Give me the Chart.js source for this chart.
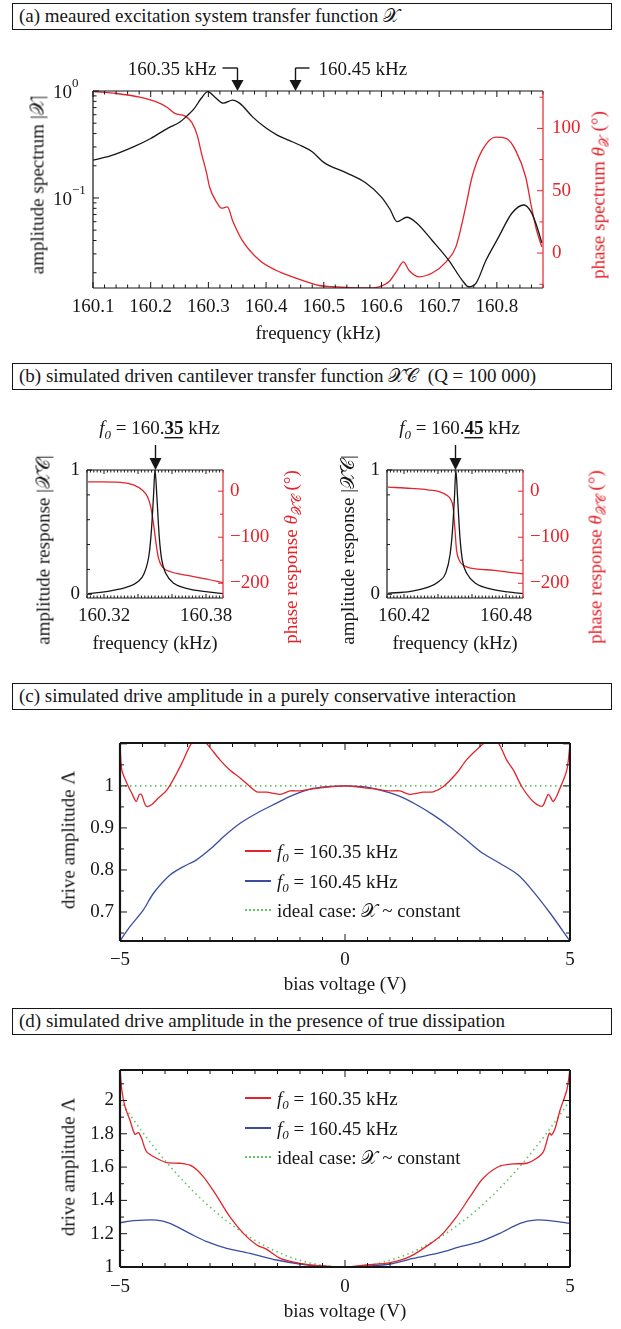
<!DOCTYPE html>
<html><head><meta charset="utf-8"><title>transfer functions</title>
<script src="https://cdn.jsdelivr.net/npm/chart.js@4.4.1/dist/chart.umd.min.js"></script>
<style>
html,body{margin:0;padding:0;background:#fff}
body{position:relative;width:621px;height:1329px;overflow:hidden;font-family:"Liberation Serif","Times New Roman",serif;color:#161616;font-size:19px}
.box{position:absolute;left:12px;width:600px;height:27px;box-sizing:border-box;border:1.5px solid #161616;padding-left:6px;line-height:24px;white-space:nowrap}
.wrap{position:absolute}
.wrap canvas{display:block}
.rt{position:absolute;white-space:nowrap;transform:translate(-50%,-50%) rotate(-90deg);line-height:1}
.ct{position:absolute;white-space:nowrap;transform:translate(-50%,-50%);line-height:1}
.red{color:#e3242b}
sub{font-size:13px;vertical-align:-4px;line-height:0}
.cx{font-family:"Liberation Serif","DejaVu Serif","DejaVu Sans","Noto Sans",serif;font-style:normal}
.leg{position:absolute;white-space:nowrap;line-height:1}
.ln{position:absolute;left:245px;width:26px;height:1.6px}
.dot{position:absolute;left:245px;width:26px;height:0;border-top:2px dotted #62c462}
</style></head>
<body>
<div class="box" style="top:3px">(a) meaured excitation system transfer function <span class="cx">𝒳</span></div>
<div class="wrap" style="left:0;top:35px"><canvas id="cA" width="621" height="310"></canvas></div>
<div class="rt" style="left:37px;top:185px">amplitude spectrum |<span class="cx">𝒳</span>|</div>
<div class="rt red" style="left:598px;top:195px">phase spectrum <i>θ</i><sub class="cx">𝒳</sub> (°)</div>
<div class="ct" style="left:318px;top:332px">frequency (kHz)</div>

<div class="box" style="top:363px">(b) simulated driven cantilever transfer function <span class="cx">𝒳𝒞</span>&nbsp; (Q = 100 000)</div>
<div class="wrap" style="left:0;top:400px"><canvas id="cB1" width="310" height="260"></canvas></div>
<div class="wrap" style="left:310px;top:400px"><canvas id="cB2" width="311" height="260"></canvas></div>
<div class="rt" style="left:43px;top:550px">amplitude response |<span class="cx">𝒳𝒞</span>|</div>
<div class="rt" style="left:347px;top:550px">amplitude response |<span class="cx">𝒳𝒞</span>|</div>
<div class="rt red" style="left:290px;top:557px">phase response <i>θ</i><sub class="cx">𝒳𝒞</sub> (°)</div>
<div class="rt red" style="left:595px;top:557px">phase response <i>θ</i><sub class="cx">𝒳𝒞</sub> (°)</div>
<div class="ct" style="left:155px;top:642px">frequency (kHz)</div>
<div class="ct" style="left:455px;top:642px">frequency (kHz)</div>

<div class="box" style="top:683px">(c) simulated drive amplitude in a purely conservative interaction</div>
<div class="wrap" style="left:0;top:715px"><canvas id="cC" width="621" height="285"></canvas></div>
<div class="rt" style="left:68px;top:840px">drive amplitude Λ</div>
<div class="ct" style="left:345px;top:983px">bias voltage (V)</div>
<div class="ln" style="top:850px;background:#e3242b"></div>
<div class="ln" style="top:880px;background:#3b4da3"></div>
<div class="dot" style="top:909px"></div>
<div class="leg" style="left:277px;top:842px"><i>f</i><sub><i>0</i></sub> = 160.35 kHz</div>
<div class="leg" style="left:277px;top:872px"><i>f</i><sub><i>0</i></sub> = 160.45 kHz</div>
<div class="leg" style="left:277px;top:901px">ideal case: <span class="cx">𝒳</span> ~ constant</div>

<div class="box" style="top:1008px">(d) simulated drive amplitude in the presence of true dissipation</div>
<div class="wrap" style="left:0;top:1040px"><canvas id="cD" width="621" height="289"></canvas></div>
<div class="rt" style="left:68px;top:1167px">drive amplitude Λ</div>
<div class="ct" style="left:345px;top:1310px">bias voltage (V)</div>
<div class="ln" style="top:1097px;background:#e3242b"></div>
<div class="ln" style="top:1127px;background:#3b4da3"></div>
<div class="dot" style="top:1156px"></div>
<div class="leg" style="left:277px;top:1089px"><i>f</i><sub><i>0</i></sub> = 160.35 kHz</div>
<div class="leg" style="left:277px;top:1119px"><i>f</i><sub><i>0</i></sub> = 160.45 kHz</div>
<div class="leg" style="left:277px;top:1148px">ideal case: <span class="cx">𝒳</span> ~ constant</div>

<script>
// ---------------- data ----------------
// (a) measured excitation system transfer function
const A_FREQ_AMP = [160.100,160.130,160.170,160.200,160.230,160.250,160.265,160.275,160.288,160.299,160.311,160.326,160.342,160.354,160.377,160.400,160.420,160.440,160.458,160.480,160.500,160.540,160.573,160.600,160.615,160.627,160.644,160.660,160.688,160.717,160.740,160.751,160.764,160.781,160.803,160.826,160.847,160.860,160.869,160.878];
const A_AMP = [0.226,0.247,0.300,0.360,0.450,0.510,0.600,0.680,0.860,0.985,0.880,0.770,0.820,0.770,0.570,0.450,0.385,0.345,0.313,0.270,0.215,0.171,0.138,0.102,0.078,0.060,0.066,0.059,0.040,0.026,0.017,0.0148,0.016,0.026,0.043,0.072,0.086,0.073,0.055,0.038];
const A_FREQ_PH = [160.100,160.141,160.181,160.211,160.228,160.242,160.259,160.271,160.281,160.288,160.297,160.302,160.314,160.323,160.333,160.342,160.359,160.389,160.418,160.428,160.458,160.492,160.515,160.574,160.596,160.613,160.627,160.638,160.648,160.665,160.688,160.712,160.729,160.746,160.757,160.774,160.798,160.816,160.833,160.850,160.860,160.869,160.878];
const A_PHASE = [129.6,128,125,121,117,112,110,105,94,80,64,53,41,36,37,26,10,-6,-14,-16,-21,-26,-27,-28,-27,-23,-14,-7,-14,-19,-16,-7,5,37,61,82,93,92,82,61,37,18,5];
const A_X_TICKS = [160.1,160.2,160.3,160.4,160.5,160.6,160.7,160.8];
const A_X_LABELS = ['160.1','160.2','160.3','160.4','160.5','160.6','160.7','160.8'];
const A_Y_EXPONENTS = [0,-1];
const A_R_TICKS = [0,50,100];
const A_R_LABELS = ['0','50','100'];
const A_MARKS = [160.35,160.45];
const A_MARK_LABELS = ['160.35 kHz','160.45 kHz'];

// (b) simulated driven cantilever transfer function
const B1_FREQ_AMP = [160.3106,160.3239,160.3338,160.3397,160.3436,160.3466,160.3479,160.3491,160.3500,160.3511,160.3525,160.3540,160.3564,160.3613,160.3692,160.3810,160.3904];
const B1_AMP = [0.005,0.027,0.059,0.099,0.167,0.328,0.516,0.785,1.000,0.785,0.462,0.274,0.167,0.086,0.046,0.019,0.004];
const B1_FREQ_PH = [160.3106,160.3180,160.3298,160.3377,160.3426,160.3456,160.3475,160.3491,160.3505,160.3519,160.3544,160.3593,160.3692,160.3790,160.3904];
const B1_PHASE = [20,20,19,13,2,-12,-34,-70,-110,-143,-165,-175,-183,-190,-199];
const B2_FREQ_AMP = [160.4106,160.4239,160.4338,160.4407,160.4446,160.4471,160.4485,160.4497,160.4505,160.4515,160.4529,160.4544,160.4570,160.4623,160.4702,160.4810,160.4908];
const B2_AMP = [0.008,0.024,0.056,0.105,0.172,0.320,0.510,0.785,1.000,0.785,0.460,0.270,0.167,0.086,0.046,0.019,0.004];
const B2_FREQ_PH = [160.4106,160.4239,160.4338,160.4416,160.4456,160.4475,160.4489,160.4499,160.4509,160.4525,160.4554,160.4593,160.4731,160.4908];
const B2_PHASE = [9,6,3,-2,-10,-18,-35,-80,-128,-150,-162,-167,-172,-180];
const B1_X_TICKS = [160.32,160.38];
const B2_X_TICKS = [160.42,160.48];
const B_Y_TICKS = [0,1];
const B_R_TICKS = [-200,-100,0];
const B_R_LABELS = ['\u2212200','\u2212100','0'];
const B_MARKS = [160.35,160.45];

// (c) purely conservative interaction
const C_V_RED = [-5.0,-4.96,-4.85,-4.74,-4.64,-4.57,-4.52,-4.42,-4.30,-4.15,-3.96,-3.74,-3.59,-3.42,-3.25,-3.07,-2.78,-2.56,-2.33,-2.11,-1.96,-1.74,-1.44,-1.22,-1.0,-0.71,-0.4,0,0.4,0.70,1.0,1.22,1.44,1.74,1.96,2.18,2.48,2.70,3.07,3.25,3.42,3.59,3.74,3.93,4.11,4.26,4.39,4.52,4.63,4.78,4.93,5.0];
const C_RED = [1.10,1.038,1.007,0.983,0.963,0.980,0.979,0.952,0.955,0.971,0.990,1.030,1.062,1.10,1.115,1.10,1.062,1.038,1.019,0.998,0.986,0.985,0.980,0.988,0.988,0.993,0.997,1.0,0.996,0.992,0.988,0.988,0.980,0.985,0.986,0.998,1.030,1.062,1.10,1.115,1.10,1.062,1.038,0.998,0.971,0.956,0.952,0.980,0.963,0.995,1.038,1.10];
const C_V_BLUE = [-5,-4.78,-4.48,-4.26,-3.89,-3.59,-3.30,-3.0,-2.70,-2.33,-1.96,-1.52,-1.22,-0.78,-0.4,0,0.4,0.70,1.22,1.59,1.96,2.33,2.70,3.07,3.44,3.85,4.19,4.56,5];
const C_BLUE = [0.631,0.665,0.705,0.744,0.788,0.808,0.824,0.849,0.879,0.911,0.935,0.959,0.975,0.992,0.998,1.0,0.998,0.992,0.975,0.955,0.931,0.903,0.871,0.839,0.816,0.788,0.748,0.697,0.631];
const C_V_IDEAL = [-5,5];
const C_IDEAL = [1,1];
const C_X_TICKS = [-5,0,5];
const C_X_LABELS = ['\u22125','0','5'];
const C_Y_TICKS = [0.7,0.8,0.9,1];
const C_Y_LABELS = ['0.7','0.8','0.9','1'];

// (d) presence of true dissipation
const D_V_RED = [-5,-4.96,-4.89,-4.78,-4.67,-4.59,-4.52,-4.41,-4.19,-3.96,-3.67,-3.41,-3.15,-2.89,-2.56,-2.26,-1.96,-1.74,-1.44,-1.0,-0.56,0,0.48,1.0,1.44,1.96,2.18,2.48,2.78,3.07,3.41,3.74,4.04,4.26,4.41,4.54,4.59,4.67,4.78,4.93,5];
const D_RED = [2.19,2.063,1.963,1.883,1.797,1.807,1.773,1.693,1.653,1.627,1.623,1.607,1.543,1.443,1.302,1.202,1.132,1.106,1.052,1.022,1.006,1.0,1.012,1.026,1.062,1.152,1.202,1.302,1.422,1.533,1.602,1.619,1.623,1.653,1.693,1.803,1.793,1.833,1.943,2.063,2.19];
const D_V_BLUE = [-5,-4.70,-4.19,-3.89,-3.44,-3.07,-2.63,-2.11,-1.52,-1.0,-0.56,0,0.5,1.0,1.52,2.11,2.56,3.0,3.44,3.89,4.22,4.63,5];
const D_BLUE = [1.266,1.278,1.282,1.262,1.200,1.152,1.112,1.082,1.042,1.018,1.006,1.0,1.006,1.018,1.052,1.086,1.122,1.152,1.202,1.262,1.282,1.276,1.262];
const D_V_IDEAL = [-5,-4.5,-4,-3.5,-3,-2.5,-2,-1.5,-1,-0.5,0,0.5,1,1.5,2,2.5,3,3.5,4,4.5,5];
const D_IDEAL = [2.0,1.81,1.64,1.49,1.36,1.25,1.16,1.09,1.04,1.01,1.0,1.01,1.04,1.09,1.16,1.25,1.36,1.49,1.64,1.81,2.0];
const D_Y_TICKS = [1,1.2,1.4,1.6,1.8,2];
const D_Y_LABELS = ['1','1.2','1.4','1.6','1.8','2'];

// ---------------- styling ----------------
const RED = '#e3242b', BLUE = '#3b4da3', GREEN = '#62c462', INK = '#161616';
const FONT = '"Liberation Serif","Times New Roman",serif';
const TICK_FONT = {family: FONT, size: 19};

function pts(xs, ys){ return xs.map((x,i)=>({x:x, y:ys[i]})); }
function line(xs, ys, color, axisId, extra){
  return Object.assign({data: pts(xs,ys), yAxisID: axisId||'y', borderColor: color, borderWidth: 1.3,
    showLine: true, pointRadius: 0, fill: false, cubicInterpolationMode: 'monotone'}, extra||{});
}
function axis(o){
  const ticks = o.ticks, labels = o.labels, size = o.size || 0;
  const cfg = {
    type: o.type || 'linear', position: o.position, min: o.min, max: o.max,
    grid: {display: false, drawTicks: false}, border: {display: false},
    afterFit: s => {
      if (s.isHorizontal()) s.height = size; else s.width = size;
      s.paddingLeft = 0; s.paddingRight = 0; s.paddingTop = 0; s.paddingBottom = 0;
    },
    ticks: {display: !!ticks, font: TICK_FONT, color: o.color || INK, padding: o.padding || 7,
      autoSkip: false, maxRotation: 0, minRotation: 0,
      callback: (v, i) => labels ? labels[i] : String(v)}
  };
  if (ticks) cfg.afterBuildTicks = s => { s.ticks = ticks.map(v => ({value: v})); };
  return cfg;
}

// frame + inward tick marks
const framePlugin = {
  id: 'frame',
  afterDatasetsDraw(chart, args, opts){
    const ctx = chart.ctx, a = chart.chartArea;
    ctx.save();
    (opts.ticks || []).forEach(t => {
      const sc = chart.scales[t.scale];
      const vals = [];
      if (t.log){
        for (let e = t.expMin; e <= t.expMax; e++) for (let k = 1; k <= 9; k++){
          const v = k * Math.pow(10, e);
          if (v >= sc.min * 0.9999 && v <= sc.max * 1.0001) vals.push({v: v, major: k === 1});
        }
      } else {
        const ratio = Math.round(t.major / t.minor);
        const n0 = Math.ceil(sc.min / t.minor - 1e-6), n1 = Math.floor(sc.max / t.minor + 1e-6);
        for (let n = n0; n <= n1; n++) vals.push({v: n * t.minor, major: ((n % ratio) + ratio) % ratio === 0});
      }
      ctx.strokeStyle = t.color; ctx.lineWidth = t.lw || 1;
      ctx.beginPath();
      vals.forEach(o => {
        const p = sc.getPixelForValue(o.v);
        const L = o.major ? t.majorLen : t.minorLen;
        t.sides.forEach(side => {
          if (side === 'bottom'){ ctx.moveTo(p, a.bottom); ctx.lineTo(p, a.bottom - L); }
          if (side === 'top'){ ctx.moveTo(p, a.top); ctx.lineTo(p, a.top + L); }
          if (side === 'left'){ ctx.moveTo(a.left, p); ctx.lineTo(a.left + L, p); }
          if (side === 'right'){ ctx.moveTo(a.right, p); ctx.lineTo(a.right - L, p); }
        });
      });
      ctx.stroke();
    });
    (opts.lines || []).forEach(l => {
      ctx.strokeStyle = l.color; ctx.lineWidth = l.lw;
      ctx.beginPath();
      if (l.side === 'top'){ ctx.moveTo(a.left, a.top); ctx.lineTo(a.right, a.top); }
      if (l.side === 'bottom'){ ctx.moveTo(a.left, a.bottom); ctx.lineTo(a.right, a.bottom); }
      if (l.side === 'left'){ ctx.moveTo(a.left, a.top); ctx.lineTo(a.left, a.bottom); }
      if (l.side === 'right'){ ctx.moveTo(a.right, a.top); ctx.lineTo(a.right, a.bottom); }
      ctx.stroke();
    });
    ctx.restore();
  }
};

function arrowDown(ctx, x, y0, y1, hw, hl){
  ctx.beginPath(); ctx.moveTo(x, y0); ctx.lineTo(x, y1 - hl + 1); ctx.stroke();
  ctx.beginPath(); ctx.moveTo(x - hw, y1 - hl); ctx.lineTo(x + hw, y1 - hl); ctx.lineTo(x, y1); ctx.closePath(); ctx.fill();
}
function rich(ctx, parts, x, y, align){
  const fontOf = p => (p.it ? 'italic ' : '') + (p.bold ? 'bold ' : '') + (p.size || 19) + 'px ' + FONT;
  let w = 0;
  parts.forEach(p => { ctx.font = fontOf(p); p.w = ctx.measureText(p.t).width; w += p.w; });
  let cx = align === 'center' ? x - w / 2 : (align === 'right' ? x - w : x);
  ctx.textAlign = 'left'; ctx.textBaseline = 'alphabetic';
  parts.forEach(p => {
    ctx.font = fontOf(p); ctx.fillText(p.t, cx, y + (p.dy || 0));
    if (p.ul) ctx.fillRect(cx, y + 3, p.w, 1.4);
    cx += p.w;
  });
}

const base = {
  responsive: false, devicePixelRatio: 1, animation: false, events: [],
  plugins: {legend: {display: false}, tooltip: {enabled: false}}
};
function opts(padding, scales, frame){
  return Object.assign({}, base, {
    layout: {autoPadding: false, padding: padding},
    scales: scales,
    plugins: Object.assign({}, base.plugins, {frame: frame})
  });
}

// ---------------- chart (a) ----------------
const annotA = {
  id: 'annotA',
  afterDraw(chart){
    const ctx = chart.ctx, a = chart.chartArea, x = chart.scales.x, y = chart.scales.y;
    ctx.save();
    ctx.fillStyle = INK; ctx.strokeStyle = INK; ctx.lineWidth = 1.4;
    const lead = a.top - 23;
    A_MARKS.forEach((f, i) => {
      const px = Math.round(x.getPixelForValue(f)) + 0.5;
      arrowDown(ctx, px, lead, a.top, 6, 11);
      ctx.beginPath();
      if (i === 0){ ctx.moveTo(px - 15, lead); ctx.lineTo(px, lead); }
      else { ctx.moveTo(px, lead); ctx.lineTo(px + 14, lead); }
      ctx.stroke();
      ctx.font = '19px ' + FONT; ctx.textBaseline = 'middle';
      ctx.textAlign = i === 0 ? 'right' : 'left';
      ctx.fillText(A_MARK_LABELS[i], i === 0 ? px - 21 : px + 23, lead + 2);
    });
    // log-axis labels 10^n
    A_Y_EXPONENTS.forEach(e => {
      const py = y.getPixelForValue(Math.pow(10, e));
      ctx.textAlign = 'left'; ctx.textBaseline = 'middle';
      ctx.font = '19px ' + FONT; ctx.fillText('10', a.left - 40, py + 2);
      ctx.font = '13px ' + FONT; ctx.fillText(e < 0 ? '\u2212' + (-e) : String(e), a.left - 21, py - 7);
    });
    ctx.restore();
  }
};
new Chart(document.getElementById('cA'), {
  type: 'scatter',
  data: {datasets: [
    line(A_FREQ_AMP, A_AMP, INK, 'y'),
    line(A_FREQ_PH, A_PHASE, RED, 'y1')
  ]},
  options: opts({left: 33, right: 28, top: 56, bottom: 22}, {
    x: axis({position: 'bottom', min: 160.1, max: 160.88, ticks: A_X_TICKS, labels: A_X_LABELS, padding: 8, size: 35}),
    y: Object.assign(axis({type: 'logarithmic', position: 'left', min: 0.0144, max: 1, size: 60}), {ticks: {display: false}}),
    y1: axis({position: 'right', min: -28, max: 130, ticks: A_R_TICKS, labels: A_R_LABELS, color: RED, padding: 9, size: 50})
  }, {
    lines: [{side: 'top', color: INK, lw: 1.2}, {side: 'bottom', color: INK, lw: 1.2}, {side: 'left', color: INK, lw: 1.2}, {side: 'right', color: RED, lw: 1.2}],
    ticks: [
      {scale: 'x', sides: ['bottom', 'top'], major: 0.1, minor: 0.02, color: INK, lw: 1, majorLen: 6, minorLen: 3.5},
      {scale: 'y', log: true, expMin: -2, expMax: 0, sides: ['left'], color: INK, lw: 1, majorLen: 6, minorLen: 3.5},
      {scale: 'y1', sides: ['right'], major: 50, minor: 25, color: RED, lw: 1, majorLen: 6, minorLen: 3.5}
    ]
  }),
  plugins: [framePlugin, annotA]
});

// ---------------- charts (b) ----------------
function makeB(id, fA, amp, fP, ph, xmin, xmax, xticks, mark, pad){
  const annot = {
    id: 'annotB',
    afterDraw(chart){
      const ctx = chart.ctx, a = chart.chartArea, x = chart.scales.x;
      ctx.save(); ctx.fillStyle = INK; ctx.strokeStyle = INK; ctx.lineWidth = 1.4;
      const px = Math.round(x.getPixelForValue(mark)) + 0.5;
      arrowDown(ctx, px, a.top - 25, a.top, 6, 12);
      const s = mark.toFixed(2);
      rich(ctx, [{t: 'f', it: true}, {t: '0', it: true, size: 13, dy: 5}, {t: ' = ' + s.slice(0, 4)},
        {t: s.slice(4), bold: true, ul: true}, {t: ' kHz'}], px + 4, a.top - 36, 'center');
      ctx.restore();
    }
  };
  return new Chart(document.getElementById(id), {
    type: 'scatter',
    data: {datasets: [line(fA, amp, INK, 'y'), line(fP, ph, RED, 'y1')]},
    options: opts(pad, {
      x: axis({position: 'bottom', min: xmin, max: xmax, ticks: xticks, labels: xticks.map(v => v.toFixed(2)), padding: 7, size: 30}),
      y: axis({position: 'left', min: -0.03, max: 1, ticks: B_Y_TICKS, labels: B_Y_TICKS.map(String), padding: 7, size: 30}),
      y1: axis({position: 'right', min: -232, max: 46, ticks: B_R_TICKS, labels: B_R_LABELS, color: RED, padding: 7, size: 60})
    }, {
      lines: [{side: 'top', color: INK, lw: 1.2}, {side: 'bottom', color: INK, lw: 1.2}, {side: 'left', color: INK, lw: 1.2}, {side: 'right', color: RED, lw: 1.2}],
      ticks: [
        {scale: 'x', sides: ['bottom', 'top'], major: 0.02, minor: 0.002, color: INK, lw: 1, majorLen: 4, minorLen: 2.5},
        {scale: 'y', sides: ['left'], major: 1, minor: 0.2, color: INK, lw: 1, majorLen: 5, minorLen: 3},
        {scale: 'y1', sides: ['right'], major: 100, minor: 50, color: RED, lw: 1, majorLen: 5, minorLen: 3}
      ]
    }),
    plugins: [framePlugin, annot]
  });
}
makeB('cB1', B1_FREQ_AMP, B1_AMP, B1_FREQ_PH, B1_PHASE, 160.31, 160.39, B1_X_TICKS, B_MARKS[0], {left: 57, right: 27, top: 70, bottom: 32});
makeB('cB2', B2_FREQ_AMP, B2_AMP, B2_FREQ_PH, B2_PHASE, 160.41, 160.49, B2_X_TICKS, B_MARKS[1], {left: 47, right: 38, top: 70, bottom: 32});

// ---------------- charts (c), (d) ----------------
function makeCD(id, sets, ymin, ymax, yticks, ylabels, ymajor, yminor, pad, xpad){
  return new Chart(document.getElementById(id), {
    type: 'scatter',
    data: {datasets: sets},
    options: opts(pad, {
      x: axis({position: 'bottom', min: -5, max: 5, ticks: C_X_TICKS, labels: C_X_LABELS, padding: xpad, size: 35}),
      y: axis({position: 'left', min: ymin, max: ymax, ticks: yticks, labels: ylabels, padding: 6, size: 50})
    }, {
      lines: [{side: 'top', color: INK, lw: 2}, {side: 'bottom', color: INK, lw: 2.2}, {side: 'left', color: INK, lw: 2.2}, {side: 'right', color: INK, lw: 2}],
      ticks: [
        {scale: 'x', sides: ['bottom', 'top'], major: 5, minor: 0.5, color: INK, lw: 1, majorLen: 7, minorLen: 4},
        {scale: 'y', sides: ['left', 'right'], major: ymajor, minor: yminor, color: INK, lw: 1, majorLen: 7, minorLen: 4}
      ]
    }),
    plugins: [framePlugin]
  });
}
makeCD('cC', [
  line(C_V_RED, C_RED, RED, 'y', {cubicInterpolationMode: 'default', tension: 0.3}),
  line(C_V_BLUE, C_BLUE, BLUE, 'y', {cubicInterpolationMode: 'default', tension: 0.3}),
  line(C_V_IDEAL, C_IDEAL, GREEN, 'y', {borderDash: [1.5, 3.5], borderWidth: 1.6})
], 0.631, 1.102, C_Y_TICKS, C_Y_LABELS, 0.1, 0.05, {left: 70, right: 51, top: 28, bottom: 24}, 8);
makeCD('cD', [
  line(D_V_RED, D_RED, RED, 'y', {cubicInterpolationMode: 'default', tension: 0.3}),
  line(D_V_BLUE, D_BLUE, BLUE, 'y', {cubicInterpolationMode: 'default', tension: 0.3}),
  line(D_V_IDEAL, D_IDEAL, GREEN, 'y', {borderDash: [1.5, 3.5], borderWidth: 1.6})
], 1.0, 2.183, D_Y_TICKS, D_Y_LABELS, 0.2, 0.1, {left: 70, right: 51, top: 30, bottom: 27}, 9);
</script>
</body></html>
